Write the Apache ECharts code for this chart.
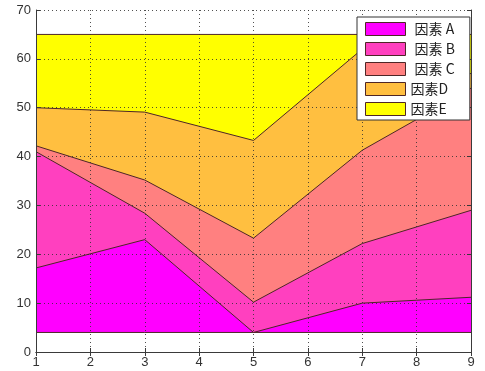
<!DOCTYPE html>
<html>
<head>
<meta charset="utf-8">
<script src="https://cdn.jsdelivr.net/npm/echarts@6/dist/echarts.min.js"></script>
<style>
html,body{margin:0;padding:0;background:#fff;}
#chart{width:485px;height:371px;}
</style>
</head>
<body>
<div id="chart"></div>
<script>
// x positions of the data points
const xValues = [1, 3, 5, 7, 8, 9];
// baseline of the stacked areas
const baseLevel = [4, 4, 4, 4, 4, 4];
// heights of each factor (stacked on top of the baseline)
const factorA = [13.2, 19, 0, 6, 6.6, 7.2];
const factorB = [23.8, 5.4, 6.2, 12.2, 15, 17.8];
const factorC = [1.2, 6.8, 13.1, 19.1, 22, 25];
const factorD = [7.8, 13.9, 20, 20.7, 8.4, 3];
const factorE = [15, 15.9, 21.7, 3, 9, 8];
const seriesNames = ['因素 A', '因素 B', '因素 C', '因素D', '因素E'];
const seriesColors = ['#ff00ff', '#ff40bf', '#ff8080', '#ffbf40', '#ffff00'];
const xTicks = [1, 2, 3, 4, 5, 6, 7, 8, 9];
const yTicks = [0, 10, 20, 30, 40, 50, 60, 70];

const edge = '#4e2626';
const frame = '#3a3a3a';
const values = [factorA, factorB, factorC, factorD, factorE];

// cumulative tops of each band (stacking done here)
const tops = [];
let running = baseLevel.slice();
values.forEach(v => {
  running = running.map((r, i) => r + v[i]);
  tops.push(running.slice());
});

const chart = echarts.init(document.getElementById('chart'), null, {renderer: 'canvas'});

const series = [];
// draw from the top band down so lower bands cover upper fills
for (let k = values.length - 1; k >= 0; k--) {
  series.push({
    name: seriesNames[k],
    type: 'line',
    data: xValues.map((x, i) => [x, tops[k][i]]),
    symbol: 'none',
    lineStyle: {color: edge, width: 1},
    itemStyle: {color: seriesColors[k]},
    areaStyle: {color: seriesColors[k], opacity: 1, origin: 'start'},
    z: 2
  });
}
series.push({
  name: 'base',
  type: 'line',
  data: xValues.map((x, i) => [x, baseLevel[i]]),
  symbol: 'none',
  silent: true,
  lineStyle: {color: edge, width: 1},
  itemStyle: {color: '#fff'},
  areaStyle: {color: '#fff', opacity: 1, origin: 'start'},
  z: 2
});

const labelFont = {fontFamily: 'Liberation Sans, Arial, sans-serif', fontSize: 13, color: '#333'};

chart.setOption({
  animation: false,
  backgroundColor: '#fff',
  grid: {left: 36, top: 10, right: 14, bottom: 19, containLabel: false},
  xAxis: [{
    type: 'value', min: xTicks[0], max: xTicks[xTicks.length - 1], interval: 1, position: 'bottom',
    axisLine: {show: true, lineStyle: {color: frame, width: 1}},
    axisTick: {show: true, inside: true, length: 4, lineStyle: {color: frame}},
    axisLabel: Object.assign({margin: 4}, labelFont),
    splitLine: {show: false},
    z: 10
  }, {
    type: 'value', min: xTicks[0], max: xTicks[xTicks.length - 1], interval: 1, position: 'top',
    axisLine: {show: true, lineStyle: {color: frame, width: 1}},
    axisTick: {show: true, inside: true, length: 4, lineStyle: {color: frame}},
    axisLabel: {show: false},
    splitLine: {show: true, lineStyle: {color: '#333', width: 1, type: [1, 3], opacity: 0.85}},
    z: 10
  }],
  yAxis: [{
    type: 'value', min: yTicks[0], max: yTicks[yTicks.length - 1], interval: 10, position: 'left',
    axisLine: {show: true, lineStyle: {color: frame, width: 1}},
    axisTick: {show: true, inside: true, length: 4, lineStyle: {color: frame}},
    axisLabel: Object.assign({margin: 5}, labelFont),
    splitLine: {show: false},
    z: 10
  }, {
    type: 'value', min: yTicks[0], max: yTicks[yTicks.length - 1], interval: 10, position: 'right',
    axisLine: {show: true, lineStyle: {color: frame, width: 1}},
    axisTick: {show: true, inside: true, length: 4, lineStyle: {color: frame}},
    axisLabel: {show: false},
    splitLine: {show: true, lineStyle: {color: '#333', width: 1, type: [1, 3], opacity: 0.85}},
    z: 10
  }],
  legend: {
    show: true,
    orient: 'vertical',
    left: 357,
    top: 17,
    padding: [5, 15, 4, 8],
    itemWidth: 40,
    itemHeight: 13,
    itemGap: 6,
    icon: 'rect',
    backgroundColor: '#fff',
    borderColor: '#333',
    borderWidth: 1,
    borderRadius: 0,
    z: 20,
    data: seriesNames.map((n, k) => ({name: n, itemStyle: {color: seriesColors[k], borderColor: edge, borderWidth: 1}})),
    formatter: function (name) {
      return name.indexOf(' ') >= 0 ? '{p|}' + name : name;
    },
    textStyle: {
      fontFamily: 'Noto Sans CJK SC, Liberation Sans, sans-serif',
      fontSize: 14,
      lineHeight: 14,
      color: '#222',
      rich: {p: {width: 4}}
    }
  },
  series: series
});
</script>
</body>
</html>
